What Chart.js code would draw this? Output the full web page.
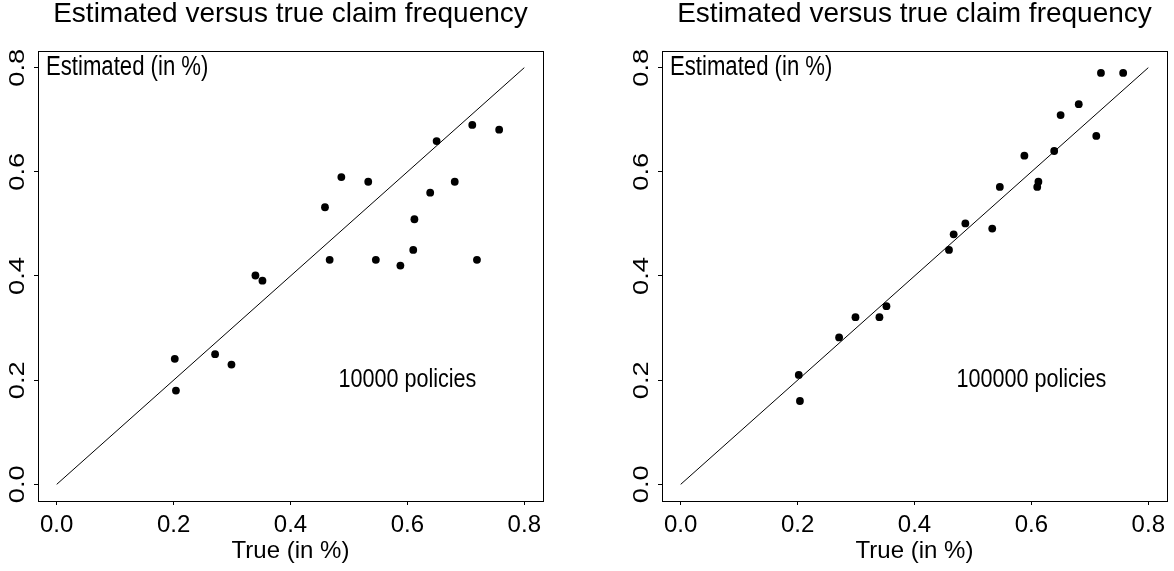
<!DOCTYPE html>
<html>
<head>
<meta charset="utf-8">
<script src="https://cdn.jsdelivr.net/npm/chart.js@4.4.1/dist/chart.umd.min.js"></script>
<style>
  body { margin: 0; background: #fff; }
  .panel { position: absolute; top: 0; width: 560px; height: 571px; }
</style>
</head>
<body>
<div class="panel" style="left:0"><canvas id="left"></canvas></div>
<div class="panel" style="left:624px"><canvas id="right"></canvas></div>
<script>
// true claim frequency, same 20 risk classes in both panels
const trueFreq = [0.202, 0.204, 0.271, 0.299, 0.340, 0.352, 0.459, 0.467, 0.487, 0.533,
                  0.546, 0.588, 0.610, 0.612, 0.639, 0.650, 0.681, 0.711, 0.719, 0.757];
const est10000 = [0.241, 0.180, 0.250, 0.230, 0.401, 0.391, 0.532, 0.431, 0.590, 0.581,
                  0.431, 0.420, 0.450, 0.509, 0.560, 0.659, 0.581, 0.690, 0.431, 0.681];
const est100000 = [0.210, 0.160, 0.282, 0.321, 0.321, 0.342, 0.450, 0.480, 0.501, 0.491,
                   0.571, 0.631, 0.571, 0.581, 0.640, 0.709, 0.730, 0.669, 0.790, 0.790];
const diagX = [0, 0.8];
const diagY = [0, 0.8];
const tickValues = [0, 0.2, 0.4, 0.6, 0.8];
const chartTitle = "Estimated versus true claim frequency";
const xTitle = "True (in %)";
const yTitle = "Estimated (in %)";

const FONT = '"Liberation Sans", Arial, Helvetica, sans-serif';

const decorations = {
    id: 'decorations',
    afterDraw(chart, args, opts) {
        const ctx = chart.ctx;
        const a = chart.chartArea;
        const x = chart.scales.x;
        const y = chart.scales.y;
        ctx.save();
        ctx.strokeStyle = '#000';
        ctx.lineWidth = 1;
        ctx.strokeRect(Math.round(a.left) + 0.5, Math.round(a.top) + 0.5,
                       Math.round(a.right - a.left), Math.round(a.bottom - a.top));
        ctx.fillStyle = '#000';
        ctx.textBaseline = 'middle';

        // y tick labels, rotated like R's default
        ctx.textAlign = 'center';
        ctx.font = '22px ' + FONT;
        tickValues.forEach(function (v) {
            ctx.save();
            ctx.translate(a.left - 20, y.getPixelForValue(v));
            ctx.rotate(-Math.PI / 2);
            ctx.scale(1.24, 1);
            ctx.fillText(v.toFixed(1), 0, 0);
            ctx.restore();
        });

        // label inside the box, top left
        ctx.save();
        ctx.textAlign = 'left';
        ctx.translate(a.left + 8, y.getPixelForValue(0.8));
        ctx.scale(0.82, 1);
        ctx.font = '27px ' + FONT;
        ctx.fillText(yTitle, 0, 0);
        ctx.restore();

        // number of policies
        ctx.save();
        ctx.textAlign = 'center';
        ctx.translate(x.getPixelForValue(0.6), y.getPixelForValue(0.2));
        ctx.scale(0.83, 1);
        ctx.font = '26px ' + FONT;
        ctx.fillText(opts.note, 0, 0);
        ctx.restore();

        ctx.restore();
    }
};

function makePanel(id, est, note) {
    const el = document.getElementById(id);
    new Chart(el, {
        type: 'scatter',
        data: {
            datasets: [{
                label: 'estimated',
                data: trueFreq.map(function (t, i) { return { x: t, y: est[i] }; }),
                pointRadius: 3.9,
                pointBackgroundColor: '#000',
                pointBorderWidth: 0,
                showLine: false,
            }, {
                label: 'diagonal',
                data: diagX.map(function (v, i) { return { x: v, y: diagY[i] }; }),
                showLine: true,
                borderColor: '#000',
                borderWidth: 1,
                pointRadius: 0,
                fill: false,
            }],
        },
        options: {
            responsive: true,
            maintainAspectRatio: false,
            animation: false,
            layout: { padding: { left: 0, right: 17, top: 0, bottom: 0 } },
            plugins: {
                legend: { display: false },
                tooltip: { enabled: false },
                title: {
                    display: true,
                    text: chartTitle,
                    fullSize: false,
                    color: '#000',
                    font: { family: FONT, size: 28, weight: 'normal', lineHeight: 1 },
                    padding: { top: 0, bottom: 23 },
                },
                decorations: { note: note },
            },
            scales: {
                x: {
                    type: 'linear',
                    min: -0.032,
                    max: 0.832,
                    afterFit: function (s) { s.height = 70; },
                    border: { display: false },
                    grid: { drawOnChartArea: false, drawTicks: true, tickLength: 4, color: '#000' },
                    ticks: {
                        stepSize: 0.2,
                        includeBounds: false,
                        autoSkip: false,
                        maxRotation: 0,
                        padding: 8,
                        color: '#000',
                        font: { family: FONT, size: 24, lineHeight: 1 },
                        callback: function (v) { return v.toFixed(1); },
                    },
                    title: {
                        display: true,
                        text: xTitle,
                        color: '#000',
                        font: { family: FONT, size: 24, lineHeight: 1 },
                        padding: { top: 0, bottom: 8 },
                    },
                },
                y: {
                    type: 'linear',
                    min: -0.032,
                    max: 0.832,
                    afterFit: function (s) { s.width = 38; },
                    border: { display: false },
                    grid: { drawOnChartArea: false, drawTicks: true, tickLength: 4, color: '#000' },
                    ticks: { display: false, stepSize: 0.2, includeBounds: false },
                },
            },
        },
        plugins: [decorations],
    });
}

makePanel('left', est10000, '10000 policies');
makePanel('right', est100000, '100000 policies');
</script>
</body>
</html>
